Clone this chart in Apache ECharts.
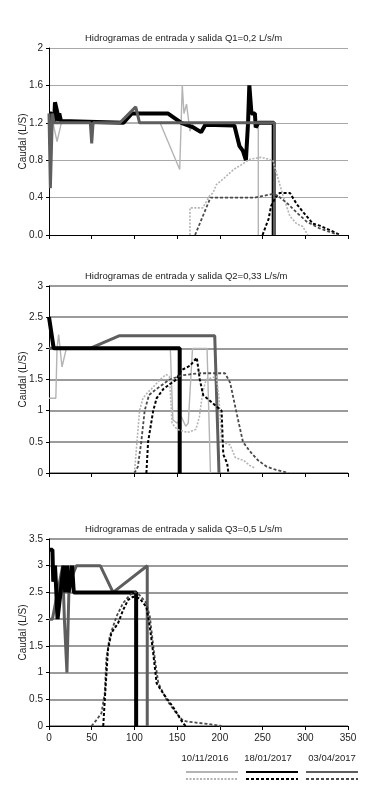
<!doctype html>
<html>
    <head>
        <meta charset="utf-8">
        <style>
            html, body { margin: 0; padding: 0; background: #fff; }
            #main { width: 377px; height: 794px; }
        </style>
    </head>
    <body>
        <div id="main"></div>
        <script src="https://cdn.jsdelivr.net/npm/echarts/dist/echarts.min.js"></script>
        <script>
            // tiempo (min) , caudal (L/s)
            var titles = [
                'Hidrogramas de entrada y salida Q1=0,2 L/s/m',
                'Hidrogramas de entrada y salida Q2=0,33 L/s/m',
                'Hidrogramas de entrada y salida Q3=0,5 L/s/m'
            ];
            var dates = ['10/11/2016', '18/01/2017', '03/04/2017'];
            var yMax = [2, 3, 3.5];
            var yStep = [0.4, 0.5, 0.5];

            // Q1
            var q1In1011 = [[0,1.3],[4.7,1.2],[9.4,1.0],[14.5,1.2],[130,1.2],[153,0.7],[156,1.6],[158,1.3],[161,1.4],[165,1.11],[169,1.2],[245,1.2],[245,0]];
            var q1In1801 = [[0,1.3],[3,1.3],[4,1.2],[5,1.3],[6,1.2],[7,1.42],[9,1.42],[10,1.3],[11,1.22],[12,1.3],[14,1.22],[16,1.2],[87,1.2],[97,1.3],[139,1.3],[155,1.2],[169,1.15],[178,1.1],[183,1.18],[217,1.17],[223,0.95],[227,0.9],[230.5,0.8],[233,1.2],[234.5,1.6],[237,1.3],[241,1.3],[242,1.15],[245,1.2],[263,1.2],[263,0]];
            var q1In0304 = [[0,1.3],[1.6,0.5],[4,1.3],[6,1.2],[48.4,1.2],[50,0.98],[51.6,1.2],[83,1.2],[101.5,1.37],[106,1.2],[264,1.2],[264,0]];
            var q1Out1011 = [[165,0],[165,0.29],[180,0.29],[188,0.42],[192,0.45],[196,0.54],[204,0.6],[210,0.65],[216,0.7],[225,0.75],[235,0.81],[248,0.83],[262,0.8],[266,0.67],[274,0.42],[282,0.2],[290,0.12],[297,0.09],[303,0]];
            var q1Out1801 = [[250,0],[254,0.1],[257,0.17],[260,0.31],[265,0.4],[270,0.45],[282,0.45],[290,0.33],[298,0.24],[309,0.12],[317,0.1],[329,0.05],[341,0]];
            var q1Out0304 = [[171,0],[189,0.4],[241,0.4],[262,0.44],[268,0.42],[280,0.33],[290,0.24],[302,0.14],[317,0.07],[339,0]];

            // Q2
            var q2In1011 = [[0,1.2],[8,1.2],[9.4,2.0],[11.3,2.22],[15.2,1.7],[20.3,2.0],[142,2.0],[145,0.85],[150,0.8],[155,0.9],[160,0.75],[163,0.8],[168,2.0],[185,2.0],[189,0]];
            var q2In1801 = [[0,2.5],[5.5,2.0],[153,2.0],[153,0]];
            var q2In0304 = [[0,2.0],[48,2.0],[82,2.2],[194,2.2],[199,0]];
            var q2Out1011 = [[100,0],[103,0.5],[106,1.0],[110,1.2],[116,1.3],[120,1.35],[130,1.5],[137,1.58],[141,1.55],[144,0.8],[150,0.7],[162,0.65],[172,0.7],[176,0.9],[180,1.3],[184,1.5],[196,1.55],[199,1.2],[202,0.5],[212,0.45],[218,0.25],[228,0.2],[235,0.12],[241,0.08]];
            var q2Out1801 = [[114,0],[116,0.5],[122,1.0],[126,1.2],[134,1.35],[149,1.5],[155,1.65],[165,1.72],[173,1.85],[176.5,1.5],[180.5,1.25],[202,1.0],[204,0.3],[208.6,0.15],[210,0]];
            var q2Out0304 = [[100,0],[104,0.1],[108,0.5],[112,1.0],[117,1.25],[126,1.35],[141,1.5],[157,1.57],[176,1.6],[206,1.6],[212,1.45],[219,1.0],[227,0.5],[235,0.35],[245,0.2],[255,0.1],[266,0.05],[280,0]];

            // Q3
            var q3In1801 = [[0,3.3],[4,3.3],[5,2.7],[7,3.0],[8,2.7],[10,2.0],[12,2.0],[17,3.0],[19,2.5],[21,3.0],[23,2.5],[25,2.5],[27,3.0],[29,2.5],[102,2.5],[102,0]];
            var q3In0304 = [[0,2.0],[4,2.0],[16,3.0],[18,2.0],[21,1.0],[24,3.0],[27,2.8],[32,3.0],[60,3.0],[75,2.5],[115,3.0],[115,0]];
            var q3Out1801 = [[63.5,0],[65.3,0.49],[69,1.42],[73,1.74],[81,1.93],[86.7,2.17],[92.6,2.36],[98.5,2.42],[106,2.39],[114,2.23],[118,1.86],[122,1.36],[126,0.8],[133.6,0.61],[145,0.36],[157,0.05],[160,0]];
            var q3Out0304 = [[49.7,0],[55,0.1],[61.4,0.24],[65.3,0.62],[67,1.24],[71,1.67],[79,2.05],[86.7,2.3],[94.6,2.45],[100.4,2.51],[106,2.45],[114,2.3],[118,2.05],[124,1.24],[128,0.8],[137.6,0.49],[149,0.24],[157,0.1],[163,0.08],[185,0.04],[202,0]];

            var font = '"Liberation Sans", Arial, sans-serif';
            var styles = {
                in1011: { color: '#b4b4b4', width: 1.4, type: 'solid' },
                in1801: { color: '#000', width: 4, type: 'solid' },
                in0304: { color: '#5e5e5e', width: 3, type: 'solid' },
                out1011: { color: '#b4b4b4', width: 1.6, type: [2, 1.5] },
                out1801: { color: '#000', width: 2, type: [3, 2] },
                out0304: { color: '#4a4a4a', width: 1.8, type: [3, 2] }
            };

            function mk(name, data, st, idx) {
                return {
                    name: name,
                    type: 'line',
                    xAxisIndex: idx,
                    yAxisIndex: idx,
                    data: data,
                    symbol: 'none',
                    silent: true,
                    lineStyle: { color: st.color, width: st.width, type: st.type },
                    itemStyle: { color: st.color }
                };
            }

            var outNames = dates.map(function (d) { return d + ' salida'; });

            var series = [
                mk(dates[0], q1In1011, styles.in1011, 0),
                mk(dates[1], q1In1801, styles.in1801, 0),
                mk(dates[2], q1In0304, styles.in0304, 0),
                mk(outNames[0], q1Out1011, styles.out1011, 0),
                mk(outNames[1], q1Out1801, styles.out1801, 0),
                mk(outNames[2], q1Out0304, styles.out0304, 0),

                mk(dates[0], q2In1011, styles.in1011, 1),
                mk(dates[2], q2In0304, styles.in0304, 1),
                mk(dates[1], q2In1801, styles.in1801, 1),
                mk(outNames[0], q2Out1011, styles.out1011, 1),
                mk(outNames[1], q2Out1801, styles.out1801, 1),
                mk(outNames[2], q2Out0304, styles.out0304, 1),

                mk(dates[2], q3In0304, styles.in0304, 2),
                mk(dates[1], q3In1801, styles.in1801, 2),
                mk(outNames[2], q3Out0304, styles.out0304, 2),
                mk(outNames[1], q3Out1801, styles.out1801, 2)
            ];

            var gridTops = [48, 286, 539];
            var gridColors = ['#a8a8a8', '#7a7a7a', '#7a7a7a'];

            var chart = echarts.init(document.getElementById('main'));

            chart.setOption({
                animation: false,
                textStyle: { fontFamily: font },
                title: titles.map(function (t, i) {
                    return {
                        text: t,
                        left: 80,
                        top: gridTops[i] - 20,
                        textStyle: { fontSize: 9.5, fontWeight: 'normal', color: '#222', fontFamily: font }
                    };
                }),
                grid: gridTops.map(function (t) {
                    return { left: 49, right: 29, top: t, height: 187 };
                }),
                xAxis: [0, 1, 2].map(function (i) {
                    return {
                        type: 'value',
                        gridIndex: i,
                        min: 0,
                        max: 350,
                        interval: 50,
                        axisLine: { onZero: false, lineStyle: { color: '#000', width: 1 } },
                        axisTick: { show: true, length: 4, lineStyle: { color: '#000' } },
                        axisLabel: { show: i === 2, color: '#222', fontSize: 10, margin: 7 },
                        splitLine: { show: false }
                    };
                }),
                yAxis: [0, 1, 2].map(function (i) {
                    return {
                        type: 'value',
                        gridIndex: i,
                        min: 0,
                        max: yMax[i],
                        interval: yStep[i],
                        name: 'Caudal (L/S)',
                        nameLocation: 'middle',
                        nameGap: 21,
                        nameMoveOverlap: false,
                        nameTextStyle: { color: '#222', fontSize: 10 },
                        axisLine: { show: true, lineStyle: { color: '#000', width: 1 } },
                        axisTick: { show: true, length: 3, lineStyle: { color: '#000' } },
                        axisLabel: {
                            color: '#222',
                            fontSize: 10,
                            margin: 6,
                            formatter: i === 0 ? function (v) { return v === 2 ? '2' : v.toFixed(1); } : null
                        },
                        splitLine: { show: true, lineStyle: { color: gridColors[i], width: i === 0 ? 1 : 1.5 } }
                    };
                }),
                legend: [
                    { data: dates, top: 764 },
                    { data: outNames, top: 771 }
                ].map(function (l) {
                    return {
                        data: l.data,
                        left: 180,
                        top: l.top,
                        itemWidth: 52,
                        itemHeight: 6,
                        itemGap: 6,
                        selectedMode: false,
                        formatter: function () { return ''; },
                        itemStyle: { opacity: 0 }
                    };
                }),
                graphic: dates.map(function (d, i) {
                    return {
                        type: 'text',
                        x: [205, 268, 332][i],
                        y: 758,
                        style: {
                            text: d,
                            textAlign: 'center',
                            textVerticalAlign: 'middle',
                            fill: '#222',
                            font: '9.5px ' + font
                        }
                    };
                }),
                series: series
            });

            window.onresize = chart.resize;
        </script>
    </body>
</html>
